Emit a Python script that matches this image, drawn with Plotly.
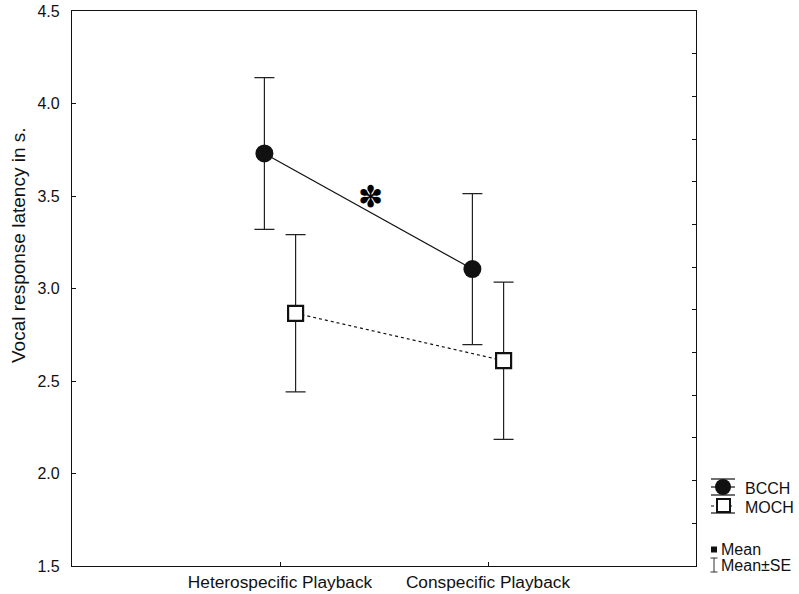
import plotly.graph_objects as go

# Playback conditions and group means / standard errors
conditions = ["Heterospecific Playback", "Conspecific Playback"]
bcch_mean = [3.73, 3.105]
bcch_se = [0.41, 0.408]
moch_mean = [2.866, 2.61]
moch_se = [0.425, 0.425]
y_ticks = [1.5, 2.0, 2.5, 3.0, 3.5, 4.0, 4.5]

cat_pos = [1, 2]
offset = 0.075
bcch_x = [p - offset for p in cat_pos]
moch_x = [p + offset for p in cat_pos]

FONT = "Liberation Sans, Arial, sans-serif"
INK = "#111111"

fig = go.Figure()

fig.add_trace(go.Scatter(
    x=moch_x, y=moch_mean, mode="lines+markers", name="MOCH",
    line=dict(color=INK, width=1.2, dash="dot"),
    marker=dict(symbol="square", size=15, color="white",
                line=dict(color=INK, width=2.2)),
    error_y=dict(type="data", array=moch_se, visible=True,
                 color="#222222", thickness=1.2, width=10),
    showlegend=False,
))

fig.add_trace(go.Scatter(
    x=bcch_x, y=bcch_mean, mode="lines+markers", name="BCCH",
    line=dict(color=INK, width=1.2),
    marker=dict(symbol="circle", size=18, color=INK,
                line=dict(color=INK, width=0)),
    error_y=dict(type="data", array=bcch_se, visible=True,
                 color="#222222", thickness=1.2, width=10),
    showlegend=False,
))

# invisible trace to anchor the right-hand frame axis
fig.add_trace(go.Scatter(x=[0], y=[0], yaxis="y2", mode="markers",
                         marker=dict(opacity=0), showlegend=False,
                         hoverinfo="skip"))

# significance mark between the BCCH means
fig.add_annotation(x=1.433, y=3.5, xref="x", yref="y", text="✽",
                   showarrow=False,
                   font=dict(family="DejaVu Sans", size=30, color="#000000"))

# ---- hand-drawn key on the right margin (paper coordinates) ----
L, R, T, B = 72, 696, 11, 566


def px(x):
    return (x - L) / (R - L)


def py(y):
    return (B - y) / (B - T)


# vertical axis title, set a little above the middle of the frame
fig.add_annotation(x=px(18), y=py(245), xref="paper", yref="paper",
                   text="Vocal response latency in s.", textangle=-90,
                   showarrow=False, xanchor="center", yanchor="middle",
                   font=dict(family=FONT, size=19, color=INK))

shapes = []
line_k = dict(color=INK, width=1.2)
# BCCH key: caps, series line, filled circle
for yy in (479, 487, 495):
    shapes.append(dict(type="line", xref="paper", yref="paper",
                       x0=px(711), x1=px(735), y0=py(yy), y1=py(yy),
                       line=line_k))
shapes.append(dict(type="circle", xref="paper", yref="paper",
                   x0=px(715), x1=px(731), y0=py(495), y1=py(479),
                   fillcolor=INK, line=dict(color=INK, width=0)))
# MOCH key: dotted series line, cap, open square
shapes.append(dict(type="line", xref="paper", yref="paper",
                   x0=px(711), x1=px(735), y0=py(506), y1=py(506),
                   line=dict(color=INK, width=1.2, dash="dot")))
shapes.append(dict(type="line", xref="paper", yref="paper",
                   x0=px(711), x1=px(735), y0=py(513), y1=py(513),
                   line=line_k))
shapes.append(dict(type="rect", xref="paper", yref="paper",
                   x0=px(717), x1=px(730), y0=py(512), y1=py(499),
                   fillcolor="white", line=dict(color=INK, width=2)))
# "Mean" key: small filled square
shapes.append(dict(type="rect", xref="paper", yref="paper",
                   x0=px(711), x1=px(717), y0=py(552.5), y1=py(546.5),
                   fillcolor=INK, line=dict(color=INK, width=0)))
# "Mean±SE" key: whisker glyph
shapes.append(dict(type="line", xref="paper", yref="paper",
                   x0=px(714), x1=px(714), y0=py(558), y1=py(572),
                   line=dict(color="#333333", width=1)))
for yy in (558, 572):
    shapes.append(dict(type="line", xref="paper", yref="paper",
                       x0=px(710.5), x1=px(717.5), y0=py(yy), y1=py(yy),
                       line=dict(color="#333333", width=1)))
fig.update_layout(shapes=shapes)

for label, yy, xx in (("BCCH", 488, 745), ("MOCH", 507, 745),
                      ("Mean", 549, 721), ("Mean±SE", 565, 721)):
    fig.add_annotation(x=px(xx), y=py(yy), xref="paper", yref="paper",
                       text=label, showarrow=False, xanchor="left",
                       yanchor="middle", xshift=-2,
                       font=dict(family=FONT, size=16, color=INK))

fig.update_layout(
    width=799, height=594,
    margin=dict(l=L, r=799 - R, t=T, b=594 - B, autoexpand=False),
    paper_bgcolor="white", plot_bgcolor="white",
    font=dict(family=FONT, size=13, color=INK),
    xaxis=dict(range=[0, 3], tickvals=cat_pos, ticktext=conditions,
               ticks="inside", ticklen=4, tickcolor=INK,
               showline=True, linecolor=INK, linewidth=1.2, mirror=True,
               showgrid=False, zeroline=False, automargin=False,
               tickfont=dict(family=FONT, size=17.3, color=INK)),
    yaxis=dict(range=[1.5, 4.5], tickvals=y_ticks,
               ticktext=[f"{v:.1f}" for v in y_ticks],
               ticks="inside", ticklen=4, tickcolor=INK,
               ticklabelstandoff=8,
               showline=True, linecolor=INK, linewidth=1.2,
               showgrid=False, zeroline=False, automargin=False,
               tickfont=dict(family=FONT, size=16, color=INK)),
    yaxis2=dict(range=[0, 13], dtick=1, tick0=0, overlaying="y",
                side="right", ticks="inside", ticklen=4, tickcolor=INK,
                showticklabels=False, showline=True, linecolor=INK,
                linewidth=1.2, showgrid=False, zeroline=False,
                automargin=False),
)

fig.write_html("out.html")
